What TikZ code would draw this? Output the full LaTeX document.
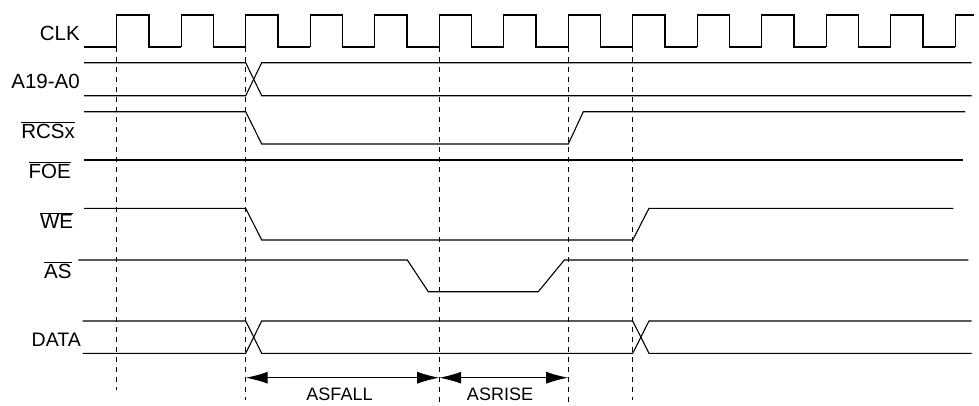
\documentclass[tikz,border=0pt]{standalone}
\usepackage{fontspec}
\setmainfont{Liberation Sans}
\usetikzlibrary{arrows.meta}
\newcommand{\ovb}[1]{$\overline{\hbox{#1}}$}
\tikzset{
  sig/.style={line width=1.1pt, line join=miter},
  guide/.style={line width=1.1pt, dash pattern=on 5pt off 5pt},
  lbl/.style={anchor=base east, inner sep=0pt, font=\fontsize{20.5}{24}\selectfont},
  dimlbl/.style={anchor=base, inner sep=0pt, font=\fontsize{18}{21}\selectfont},
  dim/.style={line width=1.1pt, {Latex[length=22pt,width=12pt]}-{Latex[length=22pt,width=12pt]}}
}
\begin{document}
\begin{tikzpicture}[x=1pt,y=-1pt]
\useasboundingbox (0,0) rectangle (979,405);
% labels
\node[lbl] (lclk) at (80,40.7) {CLK};
\node[lbl] (laddr) at (80,88.3) {A19-A0};
\node[lbl] (lrcs) at (75,138.3) {\ovb{RCSx}};
\node[lbl] (lfoe) at (71,178.3) {\ovb{FOE}};
\node[lbl] (lwe) at (73.3,228.3) {\ovb{WE}};
\node[lbl] (las) at (71.7,278.3) {\ovb{AS}};
\node[lbl, font=\fontsize{19.5}{23}\selectfont] (ldata) at (81,346.7) {DATA};
% dashed guides
\coordinate (t1) at (116.7,47); \coordinate (b1) at (116.7,390);
\coordinate (t2) at (245.7,47); \coordinate (b2) at (245.7,400);
\coordinate (t3) at (439.2,47); \coordinate (b3) at (439.2,405);
\coordinate (t4) at (568.2,47); \coordinate (b4) at (568.2,405);
\coordinate (t5) at (632.7,47); \coordinate (b5) at (632.7,400);
\foreach \i in {1,...,5} \draw[guide] (t\i) -- (b\i);
% CLK
\draw[sig] (84,47) -- (116.7,47);
\foreach \k in {0,...,12} {
  \pgfmathsetmacro{\r}{116.7+64.5*\k}
  \draw[sig] (\r,47) -- (\r,15) -- (\r+32.3,15) -- (\r+32.3,47) -- (\r+64.5,47);
}
\draw[sig] (955.2,47) -- (955.2,15) -- (974,15);
% A19-A0
\draw[sig] (84,62.7) -- (245.7,62.7) -- (261.7,95.7) -- (971.7,95.7);
\draw[sig] (84,95.7) -- (245.7,95.7) -- (261.7,62.7) -- (971.7,62.7);
% RCSx
\draw[sig] (84,111.7) -- (245.7,111.7) -- (261.7,144) -- (568.3,144) -- (583.3,111.7) -- (965,111.7);
% FOE
\draw[sig] (84,160) -- (963.3,160);
% WE
\draw[sig] (84,208.3) -- (245.7,208.3) -- (261.7,240) -- (632.7,240) -- (649,208.3) -- (953.3,208.3);
% AS
\draw[sig] (78.3,260) -- (407.3,260) -- (428.3,291.7) -- (538.3,291.7) -- (564.3,260) -- (968.3,260);
% DATA
\draw[sig] (82.7,321) -- (245.7,321) -- (261.7,353.3) -- (632.7,353.3) -- (649,321) -- (971.7,321);
\draw[sig] (82.7,353.3) -- (245.7,353.3) -- (261.7,321) -- (632.7,321) -- (649,353.3) -- (971.7,353.3);
% dimensions
\coordinate (a2) at (245.7,377.7);
\coordinate (a3) at (439.2,377.7);
\coordinate (a4) at (568.2,377.7);
\draw[dim] (a2) -- (a3);
\draw[dim] (a3) -- (a4);
\node[dimlbl] (asfall) at (339.5,400.7) {ASFALL};
\node[dimlbl] (asrise) at (500,400.7) {ASRISE};
\end{tikzpicture}
\end{document}
